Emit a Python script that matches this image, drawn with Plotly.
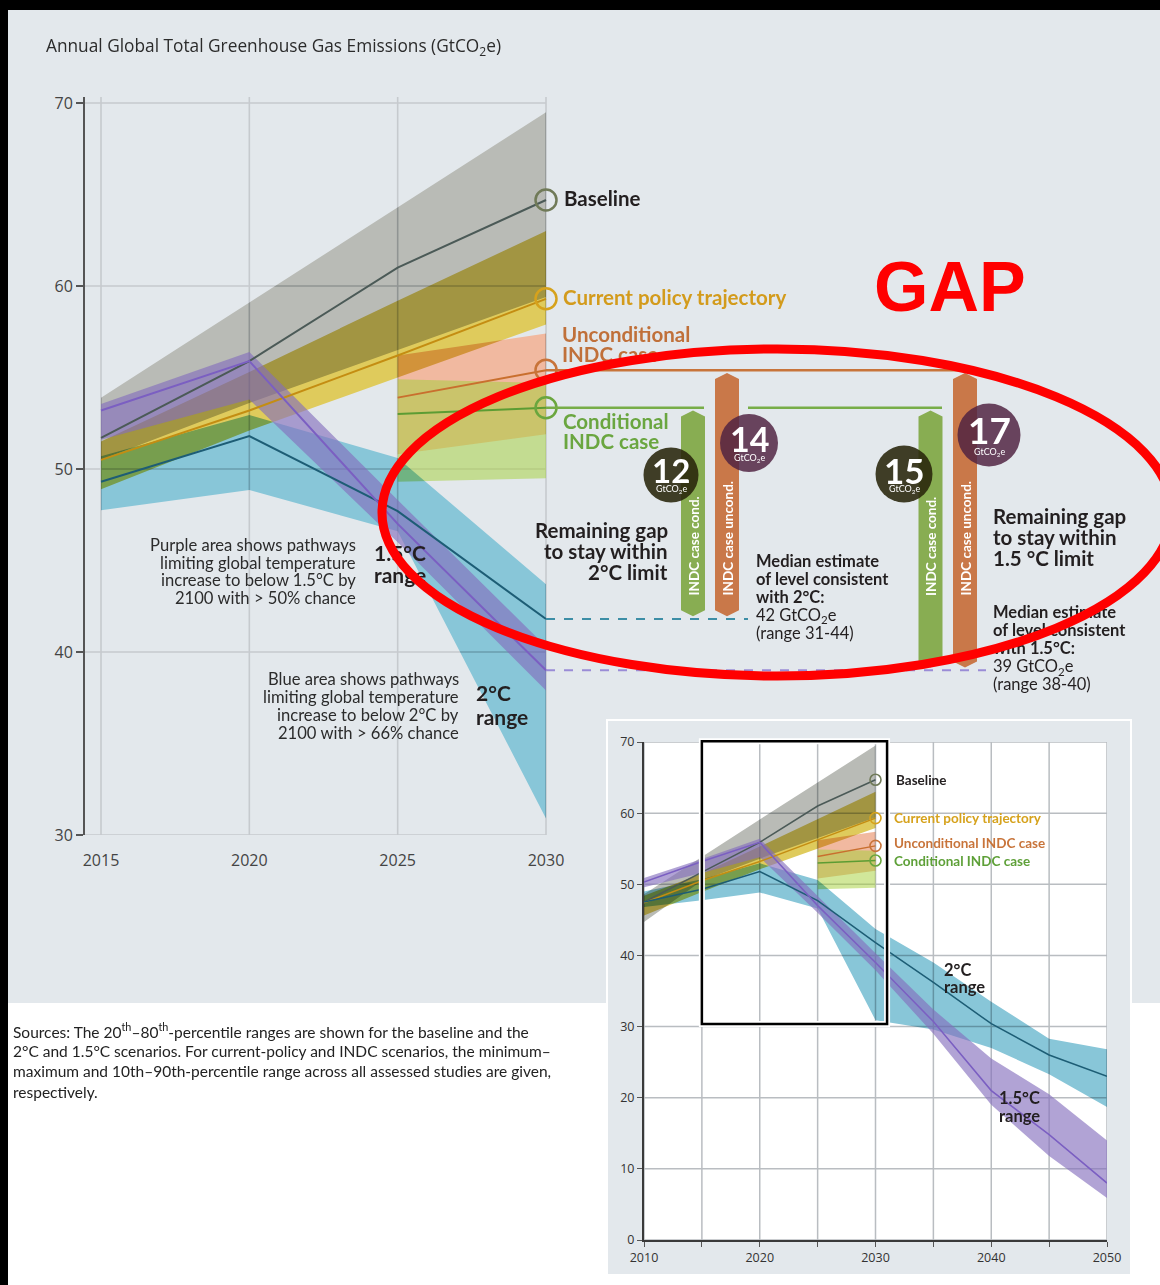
import plotly.graph_objects as go

W, H = 1160, 1285

# ---------------- data (GtCO2e) ----------------
years_hist = [2010, 2015, 2020, 2025, 2030]
baseline_med = [47.5, 51.7, 55.9, 61.0, 64.7]
baseline_hi = [48.6, 53.9, 59.1, 64.3, 69.5]
baseline_lo = [44.7, 50.5, 53.6, 56.5, 59.4]

policy_med = [47.4, 50.5, 53.2, 56.2, 59.3]
policy_hi = [48.4, 51.5, 55.3, 59.2, 63.0]
policy_lo = [45.6, 48.9, 52.1, 55.0, 57.9]

years_indc = [2025, 2030]
uncond_med = [53.9, 55.4]
uncond_hi = [56.2, 57.4]
uncond_lo = [50.8, 51.9]
cond_med = [53.0, 53.35]
cond_hi = [54.9, 54.7]
cond_lo = [49.3, 49.5]

years_path = [2010, 2015, 2020, 2025, 2030, 2035, 2040, 2045, 2050]
c2_med = [47.5, 49.3, 51.8, 47.7, 41.8, 36.2, 30.4, 26.0, 23.0]
c2_hi = [49.0, 50.7, 52.95, 50.6, 43.7, 39.0, 33.5, 28.3, 26.8]
c2_lo = [46.8, 47.75, 48.85, 46.6, 30.9, 29.6, 27.0, 23.3, 18.7]
c15_med = [50.3, 53.2, 55.9, 47.0, 39.0, 30.7, 21.0, 14.8, 8.0]
c15_hi = [50.9, 53.55, 56.4, 48.3, 40.3, 32.4, 25.5, 20.5, 14.0]
c15_lo = [49.6, 51.6, 53.8, 46.0, 37.9, 29.0, 19.0, 11.8, 5.9]

gap_values = [12, 14, 15, 17]

main_yticks = [30, 40, 50, 60, 70]
main_xticks = [2015, 2020, 2025, 2030]
inset_yticks = [0, 10, 20, 30, 40, 50, 60, 70]
inset_xticks = [2010, 2020, 2030, 2040, 2050]
inset_xgrid = [2010, 2015, 2020, 2025, 2030, 2035, 2040, 2045, 2050]

# ---------------- geometry helpers ----------------
def yr(px):  # main chart pixel -> year
    return 2015 + (px - 101) / 29.667

def val(py):  # main chart pixel -> value
    return 50 + (469 - py) / 18.3

def ix(year):
    return 644 + (year - 2010) * 11.575

def iy(v):
    return 1240 - v * 7.114

def PX(px):
    return px / W

def PY(py):
    return 1 - py / H

LATO = "Lato, 'Open Sans', sans-serif"
OPEN = "'Open Sans', Lato, sans-serif"
DARK = "#231f20"

C_GRAY = "#b9bbb6"
C_YEL = "#dfcb5c"
C_PINK = "#f1b9a0"
C_GREEN = "rgba(163,208,54,0.5)"
C_BLUE = "#88c6d8"
C_PURP = "rgba(131,109,188,0.63)"

L_BASE = "#4b5a57"
L_POL = "#c48d12"
L_UNC = "#c96f2e"
L_CON = "#5c9c33"
L_2C = "#1d5d75"
L_15 = "#7b5fc2"

fig = go.Figure()


def sel(years, arr, y0, y1):
    return [a for y, a in zip(years, arr) if y0 <= y <= y1]


def band(years, lo, hi, color, ax, uid, y0, y1):
    xs = sel(years, years, y0, y1)
    h = sel(years, hi, y0, y1)
    l = sel(years, lo, y0, y1)
    fig.add_trace(go.Scatter(x=xs + xs[::-1], y=h + l[::-1], fill="toself",
                             fillcolor=color, mode="lines", line=dict(width=0),
                             hoverinfo="skip", showlegend=False, uid=uid, **ax))


def line(years, arr, color, ax, y0, y1, width=2):
    fig.add_trace(go.Scatter(x=sel(years, years, y0, y1), y=sel(years, arr, y0, y1),
                             mode="lines", line=dict(color=color, width=width),
                             hoverinfo="skip", showlegend=False, **ax))


def draw_set(ax, tag, y0, y1, msize, mwidth, lw):
    band(years_hist, baseline_lo, baseline_hi, C_GRAY, ax, "bandmul_base" + tag, y0, y1)
    band(years_hist, policy_lo, policy_hi, C_YEL, ax, "bandmul_pol" + tag, y0, y1)
    band(years_indc, uncond_lo, uncond_hi, C_PINK, ax, "bandmul_unc" + tag, y0, y1)
    band(years_indc, cond_lo, cond_hi, C_GREEN, ax, "condband" + tag, y0, y1)
    band(years_path, c2_lo, c2_hi, C_BLUE, ax, "bandmul_c2" + tag, y0, y1)
    band(years_path, c15_lo, c15_hi, C_PURP, ax, "purple" + tag, y0, y1)
    line(years_hist, baseline_med, L_BASE, ax, y0, y1, lw)
    line(years_hist, policy_med, L_POL, ax, y0, y1, lw)
    line(years_indc, uncond_med, L_UNC, ax, y0, y1, lw)
    line(years_indc, cond_med, L_CON, ax, y0, y1, lw)
    line(years_path, c2_med, L_2C, ax, y0, y1, lw)
    line(years_path, c15_med, L_15, ax, y0, y1, lw)
    fig.add_trace(go.Scatter(
        x=[2030] * 4,
        y=[baseline_med[-1], policy_med[-1], uncond_med[-1], cond_med[-1]],
        mode="markers",
        marker=dict(symbol="circle-open", size=msize,
                    color=["#707a58", "#d6a21c", "#c8743a", "#6aa63e"],
                    line=dict(width=mwidth)),
        hoverinfo="skip", showlegend=False, **ax))


MAIN = dict(xaxis="x", yaxis="y")
INS = dict(xaxis="x2", yaxis="y2")

# ---- main gridlines as traces (so the blended bands let them show) ----
gx, gy = [], []
for v in main_yticks:
    gx += [yr(85), 2030, None]
    gy += [v, v, None]
for t in main_xticks:
    gx += [t, t, None]
    gy += [30, val(97), None]
fig.add_trace(go.Scatter(x=gx, y=gy, mode="lines", line=dict(color="#c6cace", width=1.6),
                         hoverinfo="skip", showlegend=False, **MAIN))

draw_set(MAIN, "m", 2015, 2030, 21, 2.5, 2)

# INDC horizontal extensions and median target dashed lines
fig.add_trace(go.Scatter(x=[2030, yr(985)], y=[uncond_med[-1]] * 2, mode="lines",
                         line=dict(color="#c8743a", width=2.5), hoverinfo="skip",
                         showlegend=False, **MAIN))
fig.add_trace(go.Scatter(x=[2030, yr(704), None, yr(748), yr(942)],
                         y=[cond_med[-1], cond_med[-1], None, cond_med[-1], cond_med[-1]],
                         mode="lines", line=dict(color="#78ad48", width=2.5),
                         hoverinfo="skip", showlegend=False, **MAIN))
fig.add_trace(go.Scatter(x=[2030, yr(748)], y=[c2_med[4]] * 2, mode="lines",
                         line=dict(color="#3d8ea6", width=2, dash="dash"),
                         hoverinfo="skip", showlegend=False, **MAIN))
fig.add_trace(go.Scatter(x=[2030, yr(986)], y=[c15_med[4]] * 2, mode="lines",
                         line=dict(color="#9a8cd6", width=2, dash="dash"),
                         hoverinfo="skip", showlegend=False, **MAIN))

# gap arrows (bars)
hw = 12 / 29.667
tip = 6 / 18.3
gapd = 0.15
bars = [
    (693, cond_med[-1], c2_med[4], "#88ad52", "INDC case cond."),
    (727, uncond_med[-1], c2_med[4], "#c97849", "INDC case uncond."),
    (930.5, cond_med[-1], c15_med[4], "#88ad52", "INDC case cond."),
    (965, uncond_med[-1], c15_med[4], "#c97849", "INDC case uncond."),
]
for cpx, top, bot, col, lab in bars:
    c = yr(cpx)
    t = top - gapd
    b = bot + gapd
    xs = [c - hw, c, c + hw, c + hw, c, c - hw, c - hw]
    ys = [t - tip, t, t - tip, b + tip, b, b + tip, t - tip]
    fig.add_trace(go.Scatter(x=xs, y=ys, fill="toself", fillcolor=col, mode="lines",
                             line=dict(width=0), hoverinfo="skip", showlegend=False, **MAIN))
    fig.add_annotation(text="<b>%s</b>" % lab, x=c, y=val(598), xref="x", yref="y",
                       xanchor="center", yanchor="bottom", textangle=-90, showarrow=False,
                       font=dict(family=LATO, size=13.5, color="white"))


# texts that the red ellipse crosses: drawn as text traces so the ellipse covers them
def TT(lines, x, y0, dy, size, color=DARK, bold=False):
    xs, ys, tx = [], [], []
    for i, s in enumerate(lines):
        xs.append(yr(x))
        ys.append(val(y0 + i * dy))
        tx.append("<b>%s</b>" % s if bold else s)
    fig.add_trace(go.Scatter(x=xs, y=ys, text=tx, mode="text", textposition="middle right",
                             textfont=dict(family=LATO, size=size, color=color),
                             hoverinfo="skip", showlegend=False, **MAIN))


TT(["Unconditional", "INDC case"], 562, 337, 20, 20.5, color="#c0703a", bold=True)
TT(["1.5°C", "range"], 374, 556, 22, 21, bold=True)
TT(["Median estimate", "of level consistent", "with 1.5°C:"], 993, 614, 18, 16.5, bold=True)
TT(["39 GtCO<sub>2</sub>e", "(range 38-40)"], 993, 668, 18, 16.5)

# ---- inset ----
ix_, iy_ = [], []
for v in inset_yticks:
    ix_ += [2010, 2050, None]
    iy_ += [v, v, None]
for t in inset_xgrid:
    ix_ += [t, t, None]
    iy_ += [0, 70, None]
fig.add_trace(go.Scatter(x=ix_, y=iy_, mode="lines", line=dict(color="#b9bdc1", width=1.5),
                         hoverinfo="skip", showlegend=False, **INS))
draw_set(INS, "i", 2010, 2050, 11, 1.6, 1.5)

# ---------------- shapes ----------------
shapes = []


def rect(x0, y0, x1, y1, fill, layer="below", lc=None, lw=0):
    shapes.append(dict(type="rect", xref="paper", yref="paper", x0=PX(x0), x1=PX(x1),
                       y0=PY(y1), y1=PY(y0), fillcolor=fill, layer=layer,
                       line=dict(color=lc or fill, width=lw)))


rect(8, 10, 1160, 1285, "white")
rect(8, 10, 1160, 1003, "#e3e8ec")
rect(607, 720, 1131, 1275, "#e3e8ec", lc="white", lw=2)
rect(644, 742, 1107, 1240, "white")

# zoom box in inset
for colr, wdt in (("white", 6), ("black", 2.5)):
    shapes.append(dict(type="rect", xref="paper", yref="paper",
                       x0=PX(ix(2015)), x1=PX(ix(2031)), y0=PY(iy(30.35)), y1=PY(iy(70.1)),
                       line=dict(color=colr, width=wdt), fillcolor="rgba(0,0,0,0)",
                       layer="above"))

# gap badges
badges = [(671, 475, 55, "rgba(40,36,10,0.88)"), (749, 443, 58, "rgba(80,35,65,0.84)"),
          (904, 474, 57, "rgba(40,36,10,0.88)"), (989, 435, 63, "rgba(80,35,65,0.84)")]
for cx, cy, d, colr in badges:
    shapes.append(dict(type="circle", xref="paper", yref="paper",
                       x0=PX(cx - d / 2), x1=PX(cx + d / 2), y0=PY(cy + d / 2), y1=PY(cy - d / 2),
                       fillcolor=colr, line=dict(width=0), layer="above"))

# red ellipse
shapes.append(dict(type="circle", xref="paper", yref="paper", x0=PX(382), x1=PX(1172),
                   y0=PY(676), y1=PY(349), line=dict(color="#ff0000", width=9),
                   fillcolor="rgba(0,0,0,0)", layer="above"))


# ---------------- text ----------------
def T(text, x, y, size=16, color=DARK, bold=False, xa="left", family=LATO, ya="middle"):
    if bold:
        text = "<b>%s</b>" % text
    fig.add_annotation(text=text, x=PX(x), y=PY(y), xref="paper", yref="paper",
                       xanchor=xa, yanchor=ya, showarrow=False,
                       font=dict(family=family, size=size, color=color))


def TL(lines, x, y0, dy, **kw):
    for i, s in enumerate(lines):
        T(s, x, y0 + i * dy, **kw)


T("Annual Global Total Greenhouse Gas Emissions (GtCO<sub>2</sub>e)", 44, 47, size=17.3,
  color="#2b2b2b", family=OPEN)

T("Baseline", 562, 198, size=20.5, bold=True)
T("Current policy trajectory", 561, 297, size=20.5, bold=True, color="#d39b1c")
TL(["Conditional", "INDC case"], 561, 421, 19.5, size=20.5, bold=True, color="#6aa640")

TL(["Remaining gap", "to stay within", "2°C limit"], 670, 530, 21, size=20.5, bold=True, xa="right")
TL(["Median estimate", "of level consistent", "with 2°C:"], 754, 561, 18, size=16.5, bold=True)
T("42 GtCO<sub>2</sub>e", 754, 615, size=16.5)
T("(range 31-44)", 754, 633, size=16.5)

TL(["Remaining gap", "to stay within", "1.5 °C limit"], 991, 516, 21, size=20.5, bold=True)

TL(["Purple area shows pathways", "limiting global temperature",
    "increase to below 1.5°C by", "2100 with > 50% chance"], 358, 545, 17.7, size=16.6,
   xa="right", color="#2b2b2b")
TL(["Blue area shows pathways", "limiting global temperature",
    "increase to below 2°C by", "2100 with > 66% chance"], 461, 679, 18, size=16.6,
   xa="right", color="#2b2b2b")
TL(["2°C", "range"], 474, 692, 24, size=21, bold=True)

# badge numbers
nums = [(671, 470, 489, 33), (749, 438, 458, 34), (904, 469.5, 489, 35), (989, 430, 452, 37)]
for (cx, ny, uy, fs), g in zip(nums, gap_values):
    T(str(g), cx, ny, size=fs, bold=True, color="white", xa="center")
    T("GtCO<sub>2</sub>e", cx, uy, size=9, color="white", xa="center")

T("GAP", 950, 287, size=70, bold=True, color="#ff0000", xa="center",
  family="'Liberation Sans', Arial, sans-serif")

# inset labels
T("Baseline", 894, 780, size=13.5, bold=True)
T("Current policy trajectory", 892, 818, size=13.5, bold=True, color="#d6a21c")
T("Unconditional INDC case", 892, 843, size=13.5, bold=True, color="#c8743a")
T("Conditional INDC case", 892, 861, size=13.5, bold=True, color="#5ea038")
TL(["2°C", "range"], 942, 970, 17, size=16.5, bold=True)
TL(["1.5°C", "range"], 997, 1098, 18, size=16.5, bold=True)

# sources
TL(["Sources: The 20<sup>th</sup>–80<sup>th</sup>-percentile ranges are shown for the baseline and the",
    "2°C and 1.5°C scenarios. For current-policy and INDC scenarios, the minimum–",
    "maximum and 10th–90th-percentile range across all assessed studies are given,",
    "respectively."], 11, 1030, 20.7, size=15.5, color="#222")

# ---------------- layout ----------------
fig.update_layout(
    width=W, height=H, autosize=False,
    margin=dict(l=0, r=0, t=0, b=0, pad=0),
    paper_bgcolor="#000000", plot_bgcolor="rgba(0,0,0,0)",
    showlegend=False, shapes=shapes,
    xaxis=dict(domain=[85 / W, 1.0], range=[yr(85), yr(1160)], tickvals=main_xticks,
               showgrid=False, zeroline=False, showline=False, ticks="outside", ticklen=11,
               tickcolor="rgba(0,0,0,0)", tickfont=dict(family=OPEN, size=16, color="#444"),
               anchor="y", fixedrange=True, automargin=False),
    yaxis=dict(domain=[PY(835), PY(97)], range=[30, val(97)], tickvals=main_yticks,
               showgrid=False, zeroline=False, showline=True, linecolor="#555", linewidth=2,
               ticks="outside", ticklen=7, tickwidth=2, tickcolor="#555",
               tickfont=dict(family=OPEN, size=16, color="#444"), anchor="x", fixedrange=True,
               automargin=False),
    xaxis2=dict(domain=[644 / W, 1107 / W], range=[2010, 2050], tickvals=inset_xticks,
                minor=dict(tickvals=inset_xgrid, ticks="outside", ticklen=5, tickcolor="#555",
                           showgrid=False),
                showgrid=False, zeroline=False, showline=True, linecolor="#3a3a3a", linewidth=2,
                ticks="outside", ticklen=5, tickcolor="#555",
                tickfont=dict(family=OPEN, size=12.5, color="#333"), anchor="y2", fixedrange=True,
                automargin=False),
    yaxis2=dict(domain=[PY(1240), PY(742)], range=[0, 70], tickvals=inset_yticks,
                showgrid=False, zeroline=False, showline=True, linecolor="#3a3a3a", linewidth=2,
                ticks="outside", ticklen=5, tickcolor="#555",
                tickfont=dict(family=OPEN, size=12.5, color="#333"), anchor="x2", fixedrange=True,
                automargin=False),
)

post = """
document.documentElement.style.margin = '0';
document.documentElement.style.padding = '0';
document.body.style.margin = '0';
document.body.style.padding = '0';
document.body.style.overflow = 'hidden';
document.querySelectorAll('g.scatterlayer').forEach(function(g){ g.style.isolation = 'isolate'; });
document.querySelectorAll('g.trace').forEach(function(g){
  var c = g.getAttribute('class') || '';
  if (c.indexOf('bandmul') >= 0) {
    g.querySelectorAll('path.js-fill').forEach(function(p){ p.style.mixBlendMode = 'multiply'; });
  }
});
"""

fig.write_html("out.html", post_script=post, config={"displayModeBar": False})
